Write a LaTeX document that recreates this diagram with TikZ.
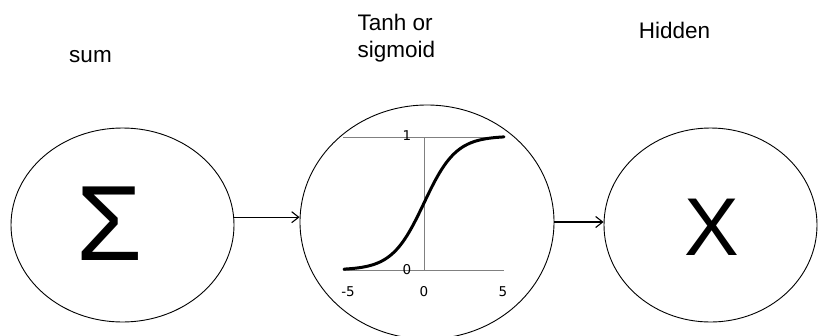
\documentclass[tikz,border=0pt]{standalone}
\usepackage{fontspec}
\setmainfont{Liberation Sans}
\newfontfamily\tickfont{DejaVu Sans}
\usetikzlibrary{shapes.geometric,arrows.meta}
\begin{document}
\begin{tikzpicture}[x=1pt,y=-1pt,
  unit/.style={ellipse,draw,line width=0.9pt,inner sep=0pt},
  arr/.style={line width=1.1pt,-{Straight Barb[length=7pt,width=11pt,line width=1.1pt]}},
  lab/.style={font=\fontsize{22.5}{27}\selectfont,inner sep=0pt},
  tick/.style={font=\tickfont\fontsize{13.5}{15}\selectfont,inner sep=0pt},
  grid/.style={draw=black!50,line width=0.8pt}]
\useasboundingbox (0,0) rectangle (818,335);
% units
\node[unit,minimum width=223pt,minimum height=194pt] (sum) at (122.5,225) {};
\node[unit,minimum width=254pt,minimum height=234pt] (tanh) at (427,222) {};
\node[unit,minimum width=213pt,minimum height=194pt] (hid) at (710.5,225) {};
% symbols
\node[font=\fontsize{107}{110}\selectfont,inner sep=0pt] (sig) at (110,224) {Σ};
\node[font=\fontsize{82}{84}\selectfont,inner sep=0pt] (xs) at (712,227.5) {X};
% labels
\node[lab,anchor=base] (lsum) at (90.5,62) {sum};
\node[lab,anchor=north west,align=left] (ltanh) at (357.5,14) {Tanh or\\sigmoid};
\node[lab,anchor=base] (lhid) at (674.5,38) {Hidden};
% graph
\coordinate (g1l) at (343,137);
\coordinate (g1r) at (504,137);
\coordinate (g0l) at (343,270);
\coordinate (g0r) at (504,270);
\coordinate (gvt) at (424,137);
\coordinate (gvb) at (424,270);
\draw[grid] (g1l) -- (g1r);
\draw[grid] (g0l) -- (g0r);
\draw[grid] (gvt) -- (gvb);
\node[tick] (t1) at (407,136) {1};
\node[tick] (t0) at (407,270) {0};
\node[tick] (tm5) at (348,292) {-5};
\node[tick] (tz) at (424,292) {0};
\node[tick] (tp5) at (503,292) {5};
\draw[line width=3pt,line cap=round] plot[domain=-5:5,samples=80,smooth] ({424+16*\x},{270-134/(1+exp(-\x))});
% connectors
\draw[arr] (sum.4) -- (sum.4 -| tanh.west);
\draw[arr] (tanh.east) -- (tanh.east -| hid.west);
\end{tikzpicture}
\end{document}
